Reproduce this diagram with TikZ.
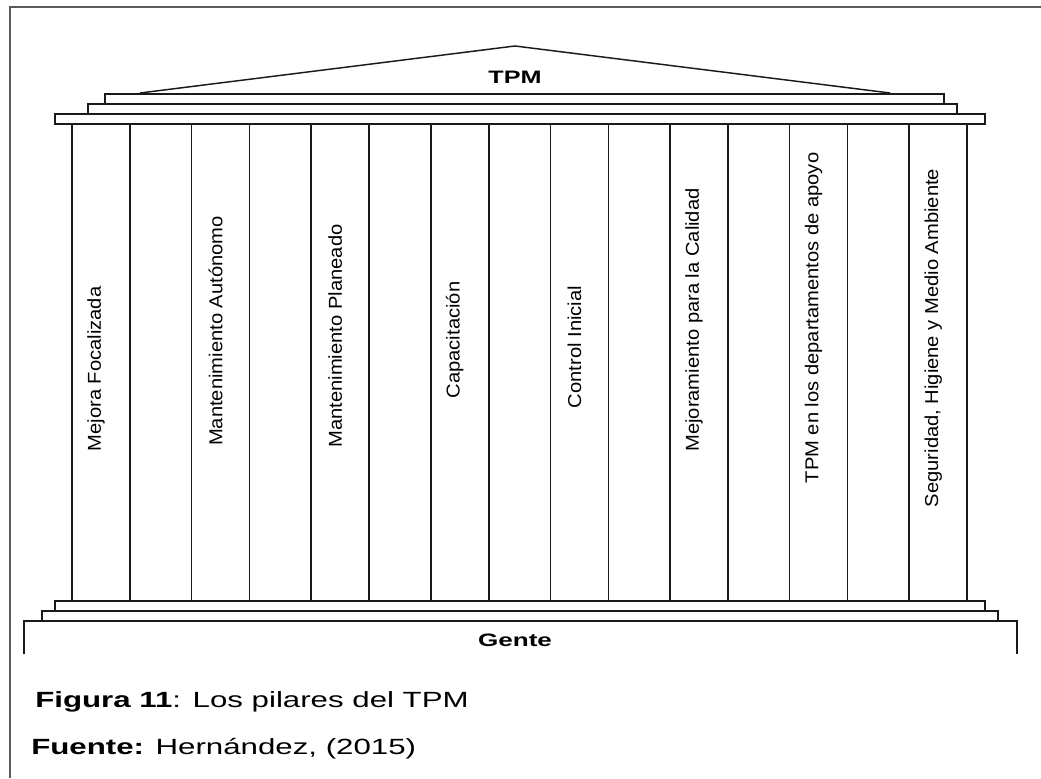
\documentclass[tikz,border=0pt]{standalone}
\usepackage{fontspec}
\setmainfont{Liberation Sans}
\usepackage{graphicx}
\usepackage{tikz}
\definecolor{cLine}{HTML}{1A1A1A}
\definecolor{cFrame}{HTML}{5A5A5A}
\newcommand{\widetext}[2]{\scalebox{#1}[1]{#2}}
\tikzset{
  slab/.style  ={draw=cLine, line width=1.1pt},
  pillar/.style={draw=cLine, line width=1.1pt},
  capline/.style={draw=cLine, line width=2pt},
  frame/.style ={draw=cFrame, line width=1.5pt},
  plabel/.style={rotate=90, inner sep=0pt, font=\fontsize{14}{16}\selectfont},
  title/.style ={inner sep=0pt, font=\bfseries\fontsize{13.5}{16}\selectfont},
  capt/.style  ={anchor=base west, inner sep=0pt, font=\fontsize{16.5}{20}\selectfont},
}

\begin{document}
\begin{tikzpicture}[x=0.75pt, y=-0.75pt]
  \useasboundingbox (0,0) rectangle (1041,778);
  % page frame
  \draw[frame] (10,778) -- (10,7) -- (1041,7);
  % roof and upper steps
  \draw[slab] (140,93) -- (515,46) -- (890,93);
  \node[title] (tpm) at (515,77) {\widetext{1.4}{TPM}};
  \draw[slab] (105,94) rectangle (944,104);
  \draw[slab] (88,104) rectangle (957,114);
  \draw[slab] (55,114) rectangle (985,124);
  % pillars
  \foreach \x in {72,191.6,311.2,430.8,550.4,670,789.6,909.2}{
    \draw[pillar] (\x,124) rectangle (\x+58,601);
    \draw[capline] (\x,124) -- (\x+58,124);
    \draw[capline] (\x,601) -- (\x+58,601);
  }
  \node[plabel] (p1) at (96,369) {\widetext{1.08}{Mejora Focalizada}};
  \node[plabel] (p2) at (215.6,331) {\widetext{1.08}{Mantenimiento Autónomo}};
  \node[plabel] (p3) at (335.2,336) {\widetext{1.08}{Mantenimiento Planeado}};
  \node[plabel] (p4) at (454.8,340) {\widetext{1.08}{Capacitación}};
  \node[plabel] (p5) at (574.4,347) {\widetext{1.08}{Control Inicial}};
  \node[plabel] (p6) at (694,320) {\widetext{1.08}{Mejoramiento para la Calidad}};
  \node[plabel] (p7) at (813.6,318) {\widetext{1.08}{TPM en los departamentos de apoyo}};
  \node[plabel] (p8) at (933.2,338) {\widetext{1.08}{Seguridad, Higiene y Medio Ambiente}};
  % lower steps and base
  \draw[slab] (55,601) rectangle (985,611);
  \draw[slab] (42,611) rectangle (998,621);
  \draw[slab] (24,654) -- (24,621) -- (1017,621) -- (1017,654);
  \node[title] (gente) at (515,640) {\widetext{1.45}{Gente}};
  % caption
  \node[capt] (fig) at (35,707) {\widetext{1.42}{\textbf{Figura 11}: Los pilares del TPM}};
  \node[capt] (src) at (31,754) {\widetext{1.42}{\textbf{Fuente:} Hernández, (2015)}};
\end{tikzpicture}
\end{document}
